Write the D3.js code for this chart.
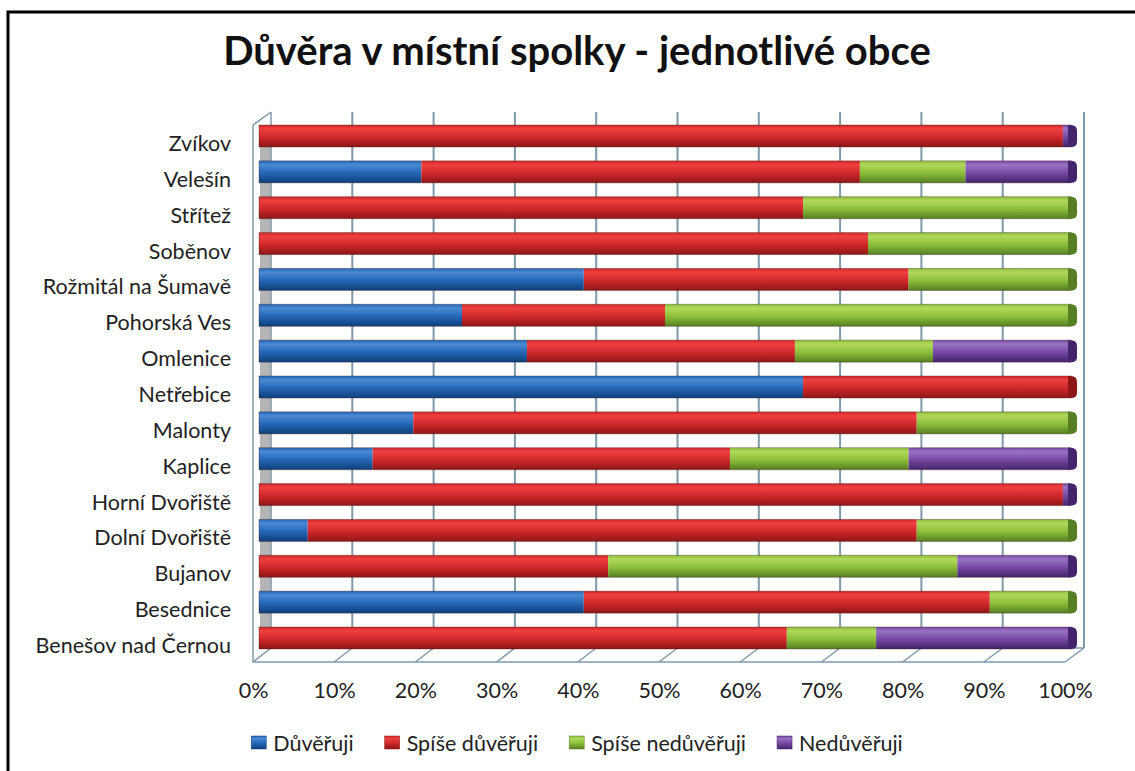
<!DOCTYPE html>
<html>
<head>
<meta charset="utf-8">
<script src="https://cdn.jsdelivr.net/npm/d3@7"></script>
<style>
  body { margin: 0; background: #fff; }
  svg { display: block; }
  text { font-family: Lato, Carlito, Calibri, sans-serif; fill: #222; }
</style>
</head>
<body>
<svg width="1135" height="771"></svg>
<script>
// data, bottom row first (as the chart reads from the axis up)
const categories = ["Benešov nad Černou", "Besednice", "Bujanov", "Dolní Dvořiště", "Horní Dvořiště",
  "Kaplice", "Malonty", "Netřebice", "Omlenice", "Pohorská Ves", "Rožmitál na Šumavě",
  "Soběnov", "Střítež", "Velešín", "Zvíkov"];
const seriesNames = ["Důvěřuji", "Spíše důvěřuji", "Spíše nedůvěřuji", "Nedůvěřuji"];
const duveruji =        [0, 40, 0, 6, 0, 14, 19, 67, 33, 25, 40, 0, 0, 20, 0];
const spiseDuveruji =   [65, 50, 43, 75, 99, 44, 62, 33, 33, 25, 40, 75, 67, 54, 99];
const spiseNeduveruji = [11, 10, 43, 19, 0, 22, 19, 0, 17, 50, 20, 25, 33, 13, 0];
const neduveruji =      [24, 0, 14, 0, 1, 20, 0, 0, 17, 0, 0, 0, 0, 13, 1];
const tickValues = [0, 10, 20, 30, 40, 50, 60, 70, 80, 90, 100];

const colors = [
  ["#4a8ad6", "#2467b6", "#0e3f7c"],
  ["#ee4040", "#d0282a", "#8e1718"],
  ["#b0d85a", "#8dbf3b", "#557f22"],
  ["#9a72c4", "#7649a3", "#44246b"]
];

const table = categories.map((c, i) => ({
  cat: c,
  "Důvěřuji": duveruji[i],
  "Spíše důvěřuji": spiseDuveruji[i],
  "Spíše nedůvěřuji": spiseNeduveruji[i],
  "Nedůvěřuji": neduveruji[i]
}));
const stacked = d3.stack().keys(seriesNames)(table);

// 3D box: front plane, bar plane and back wall
const xFront = d3.scaleLinear().domain([0, 100]).range([253, 1065]);
const xBar = d3.scaleLinear().domain([0, 100]).range([259, 1071]);
const xBack = d3.scaleLinear().domain([0, 100]).range([271, 1084]);
const y = d3.scalePoint().domain(categories).range([638, 136]);
const barH = 22;
const floorFront = 662, floorBack = 648, wallTopFront = 125, wallTopBack = 112;

const svg = d3.select("svg");
const defs = svg.append("defs");
colors.forEach((c, i) => {
  const g = defs.append("linearGradient").attr("id", "g" + i)
    .attr("x1", 0).attr("y1", 0).attr("x2", 0).attr("y2", 1);
  g.append("stop").attr("offset", "0%").attr("stop-color", c[1]);
  g.append("stop").attr("offset", "18%").attr("stop-color", c[0]);
  g.append("stop").attr("offset", "55%").attr("stop-color", c[1]);
  g.append("stop").attr("offset", "100%").attr("stop-color", c[2]);
});

// outer frame
svg.append("rect").attr("x", 8).attr("y", 12).attr("width", 1140).attr("height", 770)
  .attr("fill", "none").attr("stroke", "#000").attr("stroke-width", 3);

// title
svg.append("text").attr("x", 577).attr("y", 65).attr("text-anchor", "middle")
  .style("font-size", "40px").style("font-weight", "bold").style("fill", "#111")
  .text("Důvěra v místní spolky - jednotlivé obce");

const wallColor = "#7f9aab";

// left wall shade
svg.append("rect").attr("x", xBar(0) + 1).attr("y", wallTopFront + 20)
  .attr("width", xBack(0) - xBar(0) - 1).attr("height", floorBack - wallTopFront - 20)
  .attr("fill", "#b5b5b5");

// gridlines on the back wall
svg.append("g").selectAll("line").data(tickValues).join("line")
  .attr("x1", d => xBack(d)).attr("x2", d => xBack(d))
  .attr("y1", wallTopBack).attr("y2", floorBack)
  .attr("stroke", wallColor).attr("stroke-width", d => d === 0 ? 1.5 : 2);

// floor lines
svg.append("g").selectAll("line").data(tickValues).join("line")
  .attr("x1", d => xFront(d)).attr("x2", d => xBack(d))
  .attr("y1", floorFront).attr("y2", floorBack)
  .attr("stroke", wallColor).attr("stroke-width", 1.5);
svg.append("path")
  .attr("d", `M${xFront(0)},${wallTopFront} L${xBack(0)},${wallTopBack} M${xFront(0)},${wallTopFront} L${xFront(0)},${floorFront} L${xFront(100)},${floorFront} M${xBack(0)},${floorBack} L${xBack(100)},${floorBack}`)
  .attr("fill", "none").attr("stroke", wallColor).attr("stroke-width", 1.5);

// bars
const layers = svg.append("g").selectAll("g").data(stacked).join("g")
  .attr("fill", (d, i) => `url(#g${i})`);
layers.selectAll("rect").data(d => d.map(v => ({ v, cat: v.data.cat }))).join("rect")
  .attr("x", d => xBar(d.v[0]))
  .attr("y", d => y(d.cat) - barH / 2)
  .attr("width", d => Math.max(0, xBar(d.v[1]) - xBar(d.v[0])))
  .attr("height", barH);

// thin outline on top / bottom of each bar
svg.append("g").selectAll("rect").data(categories).join("rect")
  .attr("x", xBar(0)).attr("y", d => y(d) - barH / 2)
  .attr("width", xBar(100) - xBar(0)).attr("height", barH)
  .attr("fill", "none").attr("stroke", "rgba(60,20,20,0.35)").attr("stroke-width", 1);

// end caps, coloured by the last non-zero series
const lastSeries = categories.map((c, i) => {
  const vals = [duveruji[i], spiseDuveruji[i], spiseNeduveruji[i], neduveruji[i]];
  let k = 3;
  while (k > 0 && vals[k] === 0) k--;
  return k;
});
svg.append("g").selectAll("path").data(categories).join("path")
  .attr("d", d => {
    const x0 = xBar(100) - 3, yt = y(d) - barH / 2, yb = y(d) + barH / 2;
    return `M${x0},${yt} L${x0 + 3},${yt} Q${x0 + 9},${yt} ${x0 + 9},${yt + 6} L${x0 + 9},${yb - 5} Q${x0 + 9},${yb} ${x0 + 3},${yb} L${x0},${yb} Z`;
  })
  .attr("fill", (d, i) => colors[lastSeries[i]][2]);

// category labels
svg.append("g").selectAll("text").data(categories).join("text")
  .attr("x", 231).attr("y", d => y(d) + 15)
  .attr("text-anchor", "end")
  .style("font-size", "21.5px")
  .text(d => d);

// x axis labels
const xAxis = d3.axisBottom(xFront).tickValues(tickValues).tickFormat(d => d + "%").tickSize(0);
const ax = svg.append("g").attr("transform", `translate(0,${floorFront + 18})`).call(xAxis);
ax.select(".domain").remove();
ax.selectAll("text").style("font-size", "21.5px").style("fill", "#222").style("font-family", null);

// legend
const legend = svg.append("g");
let lx = 0;
seriesNames.forEach((name, i) => {
  const item = legend.append("g").attr("transform", `translate(${lx},0)`);
  item.append("rect").attr("x", 0).attr("y", -7).attr("width", 15).attr("height", 13)
    .attr("fill", `url(#g${i})`).attr("stroke", colors[i][2]).attr("stroke-width", 0.5);
  const t = item.append("text").attr("x", 22).attr("y", 8).style("font-size", "21.5px").text(name);
  lx += 22 + t.node().getComputedTextLength() + 31;
});
const legendW = lx - 31;
legend.attr("transform", `translate(${577 - legendW / 2},743)`);
</script>
</body>
</html>
